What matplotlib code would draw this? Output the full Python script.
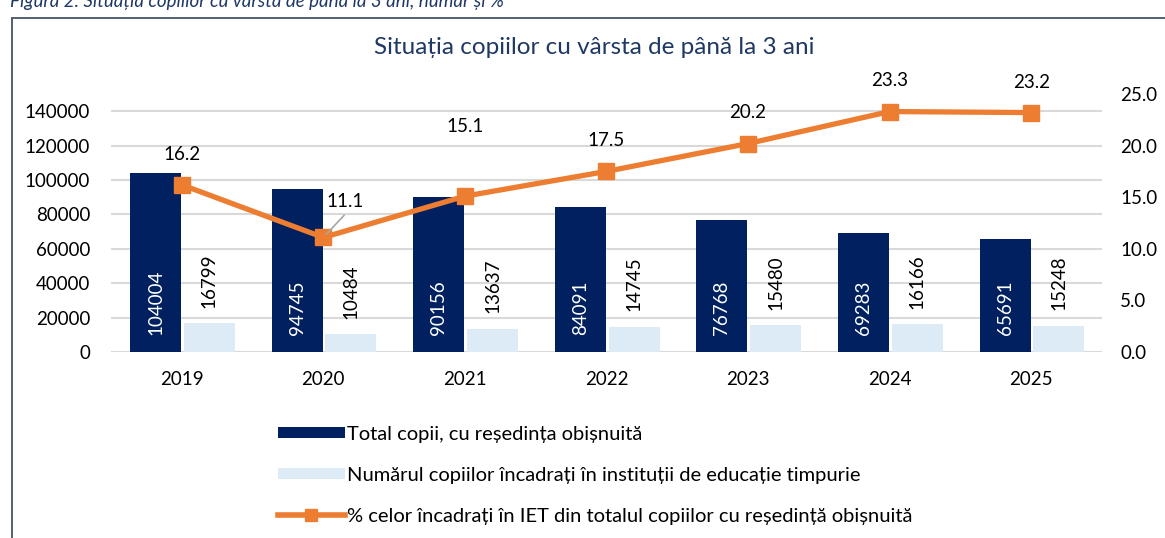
import numpy as np
import matplotlib
matplotlib.use("Agg")
import matplotlib.pyplot as plt
from matplotlib.patches import Rectangle, Patch
from matplotlib.lines import Line2D

plt.rcParams['font.family'] = ['Lato', 'DejaVu Sans']

# data
years = ['2019', '2020', '2021', '2022', '2023', '2024', '2025']
total_copii = [104004, 94745, 90156, 84091, 76768, 69283, 65691]
copii_iet = [16799, 10484, 13637, 14745, 15480, 16166, 15248]
pct_iet = [16.2, 11.1, 15.1, 17.5, 20.2, 23.3, 23.2]

# label offsets for the % labels (points)
pct_label_off = [(0, 22), (16, 26), (0, 50), (0, 22), (0, 22), (0, 22), (0, 22)]

navy = '#002060'
light = '#DDEBF7'
orange = '#ED7D31'
grid_c = '#D9D9D9'

W, H = 1165, 538
fig = plt.figure(figsize=(W / 100, H / 100), dpi=100)

# outer frame + caption (cut off at the top)
fig.patches.append(Rectangle((12 / W, -0.1), 1.2, 1 - 18 / H + 0.1, transform=fig.transFigure,
                             fill=False, edgecolor='#44546A', linewidth=1.3))
fig.text(10 / W, 1 - 1 / H, 'Figura 2. Situația copiilor cu vârsta de până la 3 ani, număr și %',
         fontsize=13.5, style='italic', color='#1F3864', va='center', ha='left')
fig.text(594 / W, 1 - 47 / H, 'Situația copiilor cu vârsta de până la 3 ani',
         fontsize=17.5, color='#1F3864', ha='center', va='center')

ax = fig.add_axes([111 / W, 1 - 352 / H, 991 / W, 258 / H])
x = np.arange(len(years))
bw = 0.36
ax.bar(x - 0.185, total_copii, bw, color=navy, zorder=2)
ax.bar(x + 0.195, copii_iet, bw, color=light, zorder=2)
ax.set_ylim(0, 150000)
ax.set_xlim(-0.5, len(years) - 0.5)
ax.set_yticks(np.arange(0, 140001, 20000))
ax.set_xticks(x)
ax.set_xticklabels(years)
ax.yaxis.grid(True, color=grid_c, linewidth=1.5, zorder=0)
ax.set_axisbelow(True)
for s in ax.spines.values():
    s.set_visible(False)
ax.tick_params(length=0, labelsize=13.5, colors='black')
ax.tick_params(axis='y', pad=15)
ax.tick_params(axis='x', pad=14)

for i in range(len(years)):
    ax.annotate(str(total_copii[i]), (x[i] - 0.185, 0), xytext=(0, 12), textcoords='offset points',
                rotation=90, ha='center', va='bottom', color='white', fontsize=13.5)
    ax.annotate(str(copii_iet[i]), (x[i] + 0.195, copii_iet[i]), xytext=(0, 11), textcoords='offset points',
                rotation=90, ha='center', va='bottom', color='black', fontsize=13.5)

ax2 = ax.twinx()
ax2.plot(x, pct_iet, color=orange, linewidth=3.8, marker='s', markersize=12, zorder=3)
ax2.set_ylim(0, 25)
ax2.set_yticks(np.arange(0, 25.1, 5))
ax2.set_yticklabels(['%.1f' % v for v in np.arange(0, 25.1, 5)])
for s in ax2.spines.values():
    s.set_visible(False)
ax2.tick_params(length=0, labelsize=13.5, colors='black', pad=13)

for i in range(len(years)):
    dx, dy = pct_label_off[i]
    ax2.annotate('%.1f' % pct_iet[i], (x[i], pct_iet[i]), xytext=(dx, dy), textcoords='offset points',
                 ha='center', va='center', fontsize=13.5)
# leader line for 2020 label
ax2.annotate('', (x[1], pct_iet[1]), xytext=(15, 16), textcoords='offset points',
             arrowprops=dict(arrowstyle='-', color='#A6A6A6', lw=1.2, shrinkA=0, shrinkB=3))

handles = [Patch(facecolor=navy, edgecolor='none'),
           Patch(facecolor=light, edgecolor='none'),
           Line2D([0], [0], color=orange, linewidth=4, marker='s', markersize=9)]
labels = ['Total copii, cu reședința obișnuită',
          'Numărul copiilor încadrați în instituții de educație timpurie',
          '% celor încadrați în IET din totalul copiilor cu reședință obișnuită']
fig.legend(handles, labels, loc='upper left', bbox_to_anchor=(270 / W, 1 - 418 / H), frameon=False,
           fontsize=14.5, handlelength=3.3, handleheight=0.45, handletextpad=0.1, labelspacing=1.18,
           borderaxespad=0)

fig.savefig('out.png', dpi=100)
